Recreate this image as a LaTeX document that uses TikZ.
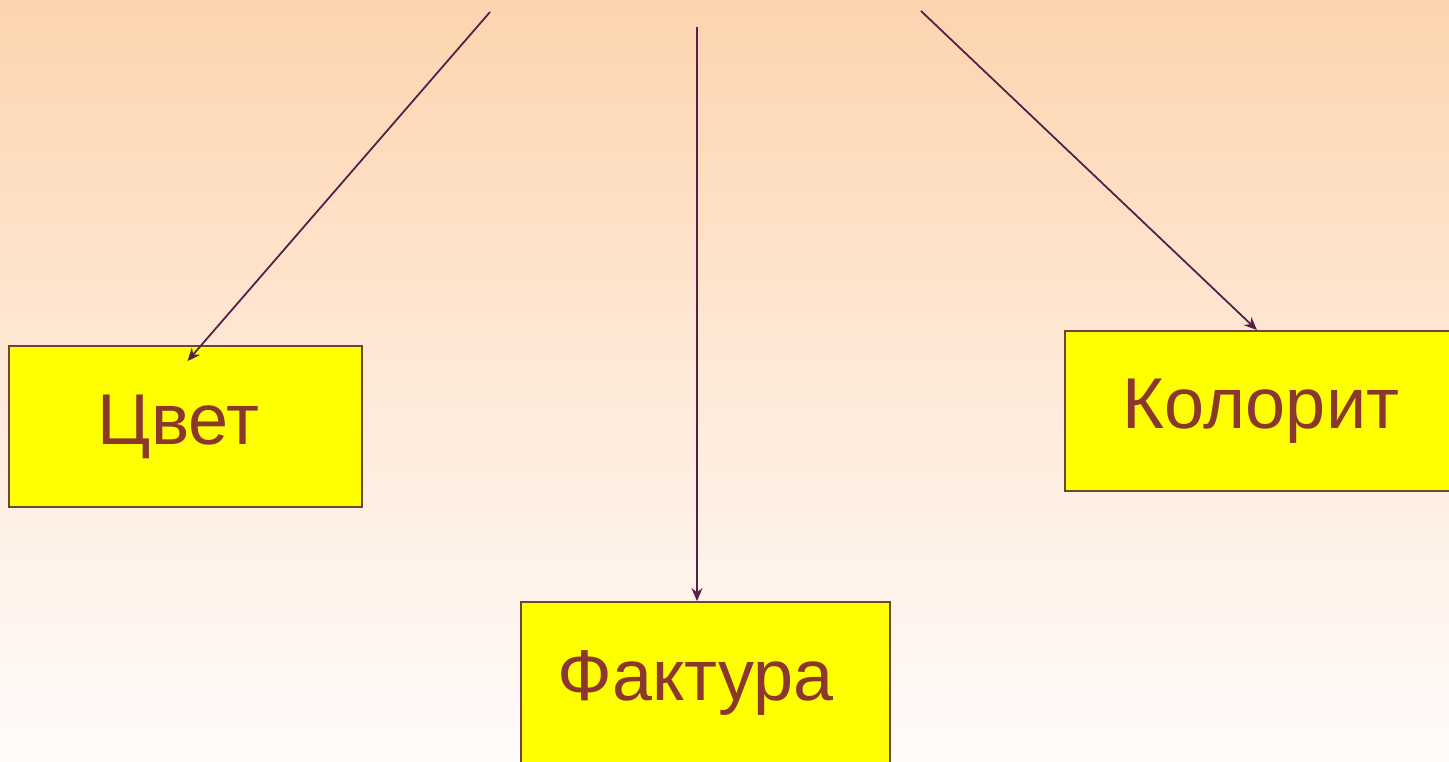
\documentclass[tikz,border=0pt]{standalone}
\usepackage{fontspec}
\setmainfont{Liberation Sans}
\usetikzlibrary{calc,arrows.meta}
\definecolor{bgtop}{RGB}{253,212,174}
\definecolor{bgbot}{RGB}{255,251,250}
\definecolor{boxfill}{RGB}{255,255,0}
\definecolor{boxline}{RGB}{110,70,45}
\definecolor{txtcol}{RGB}{140,55,45}
\definecolor{arrcol}{RGB}{90,30,75}
\tikzset{
  conceptbox/.style={draw=boxline, line width=1.8pt, fill=boxfill, inner sep=0pt,
    text=txtcol, font=\fontsize{72}{86}\selectfont, text height=50pt, text depth=14pt},
  linkarrow/.style={draw=arrcol, line width=1.8pt, -{Stealth[length=13pt,width=11pt]}}
}
\begin{document}
\begin{tikzpicture}[x=1pt,y=1pt]
\useasboundingbox (0,0) rectangle (1449,761);
\clip (0,0) rectangle (1449,761);
\shade[top color=bgtop, bottom color=bgbot, middle color={bgtop!45!bgbot}] (0,0) rectangle (1449,761);
% boxes (y = 761 - image y)
\node[conceptbox, minimum width=353pt, minimum height=161pt] (cvet) at (185.5,334.5) {\hspace*{-14pt}Цвет};
\node[conceptbox, minimum width=369pt, minimum height=161pt] (faktura) at (705.5,78.5) {\hspace*{-20pt}Фактура};
\node[conceptbox, minimum width=392pt, minimum height=160pt] (kolorit) at (1261,350) {Колорит};
% arrow start points
\coordinate (s1) at (490,749);
\coordinate (s2) at (697,734);
\coordinate (s3) at (921,750);
\coordinate (t1) at ($(cvet.north)+(2,-16)$);
\coordinate (t2) at ($(faktura.north)+(-8.5,0)$);
\coordinate (t3) at ($(kolorit.north)+(-4,0)$);
\draw[linkarrow] (s1) -- (t1);
\draw[linkarrow] (s2) -- (t2);
\draw[linkarrow] (s3) -- (t3);
\end{tikzpicture}
\end{document}
